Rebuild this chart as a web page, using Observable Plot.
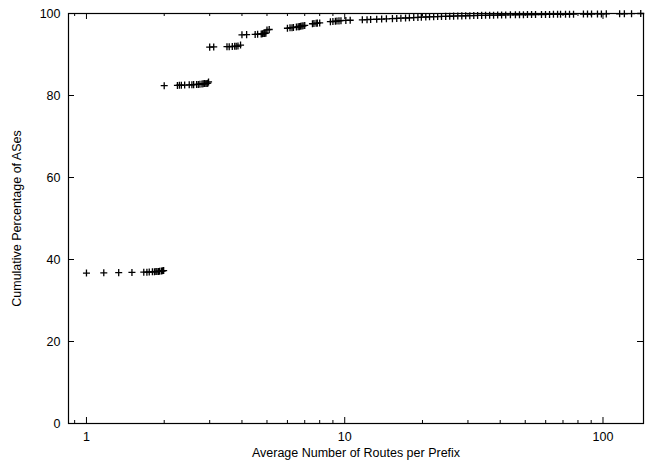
<!DOCTYPE html>
<html><head><meta charset="utf-8">
<script src="https://cdn.jsdelivr.net/npm/d3@7"></script>
<script src="https://cdn.jsdelivr.net/npm/@observablehq/plot@0.6"></script>
<style>body{margin:0;background:#fff} svg{display:block}</style>
</head><body><div id="chart"></div>
<script>
const routesPerPrefix = [
  1.0, 1.167, 1.333, 1.5, 1.667, 1.714, 1.75, 1.8, 1.833, 1.857, 1.875, 1.9, 1.92, 1.95, 1.97, 1.99,
  2.0, 2.25, 2.29, 2.33, 2.4, 2.5, 2.56, 2.6, 2.67, 2.71, 2.75, 2.8, 2.83, 2.86, 2.9, 2.93, 2.95, 2.97,
  3.0, 3.11, 3.5, 3.57, 3.67, 3.75, 3.8, 3.86, 3.95,
  4.0, 4.17, 4.5, 4.6, 4.75, 4.8, 4.86, 4.9, 4.95, 5.0, 5.1,
  6.0, 6.14, 6.25, 6.33, 6.5, 6.6, 6.67, 6.75, 6.83, 6.9, 7.0,
  7.5, 7.6, 7.75, 7.83, 8.0,
  8.8, 9.0, 9.2, 9.33, 9.5, 9.67,
  10.1, 10.5, 11.7, 12.2, 12.6, 13.3, 13.9, 14.5, 15.3, 15.9, 16.5, 17.2, 17.8, 18.5, 19.2, 19.8,
  20.6, 21.3, 22.1, 22.9, 23.7, 24.6, 25.5, 26.4, 27.4, 28.4, 29.4, 30.5, 31.6, 32.7, 33.9, 35.1,
  36.4, 37.7, 39.1, 40.5, 42.0, 43.8, 45.8, 47.5, 49.2, 51.0, 52.9, 54.8, 57.8, 59.9, 62.1, 64.3,
  66.7, 68.5, 71.6, 74.2, 76.9, 84.0, 87.1, 90.3, 95.2, 98.6, 103, 116, 121, 129, 140
];
const cumulativePct = [
  36.7, 36.75, 36.8, 36.85, 36.9, 36.9, 36.95, 37.0, 37.0, 37.05, 37.1, 37.1, 37.15, 37.2, 37.25, 37.3,
  82.4, 82.45, 82.5, 82.5, 82.55, 82.6, 82.6, 82.65, 82.7, 82.7, 82.75, 82.8, 82.85, 82.9, 82.9, 82.95, 83.0, 83.3,
  91.8, 91.85, 91.9, 91.9, 91.95, 92.0, 92.0, 92.05, 92.3,
  94.8, 94.85, 94.9, 94.95, 95.0, 95.05, 95.1, 95.15, 95.2, 96.0, 96.1,
  96.4, 96.5, 96.55, 96.6, 96.7, 96.75, 96.8, 96.9, 96.95, 97.0, 97.1,
  97.5, 97.55, 97.6, 97.65, 97.7,
  98.0, 98.05, 98.1, 98.15, 98.2, 98.25,
  98.3, 98.35, 98.45, 98.5, 98.55, 98.6, 98.65, 98.7, 98.75, 98.8, 98.85, 98.9, 98.95, 99.0, 99.05, 99.1,
  99.15, 99.2, 99.22, 99.25, 99.28, 99.3, 99.33, 99.36, 99.4, 99.42, 99.45, 99.47, 99.5, 99.52, 99.54, 99.56,
  99.58, 99.6, 99.62, 99.64, 99.66, 99.68, 99.7, 99.71, 99.72, 99.73, 99.74, 99.75, 99.76, 99.77, 99.78, 99.79,
  99.8, 99.81, 99.82, 99.83, 99.84, 99.86, 99.87, 99.88, 99.89, 99.9, 99.91, 99.93, 99.94, 99.96, 100
];
const xMajorTicks = [1, 10, 100];
const xMinorTicks = [0.9, 2, 3, 4, 5, 6, 7, 8, 9, 20, 30, 40, 50, 60, 70, 80, 90];
const yTicks = [0, 20, 40, 60, 80, 100];
const xLabel = "Average Number of Routes per Prefix";
const yLabel = "Cumulative Percentage of ASes";

const points = routesPerPrefix.map((x, i) => ({x, y: cumulativePct[i]}));

const W = 645, H = 463, mL = 68, mR = 2, mT = 13, mB = 40;
const pw = W - mL - mR, ph = H - mT - mB;

const chart = Plot.plot({
  width: W, height: H,
  marginLeft: mL, marginRight: mR, marginTop: mT, marginBottom: mB,
  style: {fontFamily: "'Liberation Sans', Arial, sans-serif", fontSize: "12.5px", background: "#fff", color: "#000"},
  x: {type: "log", domain: [0.852, 143.5]},
  y: {domain: [0, 100]},
  marks: [
    Plot.axisX({ticks: xMajorTicks, tickSize: 0, tickPadding: 9, tickFormat: d => String(d),
      label: xLabel, labelAnchor: "center", labelOffset: 33, labelArrow: "none", fontSize: 12.5}),
    Plot.axisY({ticks: yTicks, tickSize: 0, tickPadding: 8, tickFormat: d => String(d),
      label: yLabel, labelAnchor: "center", labelOffset: 56, labelArrow: "none", fontSize: 12.5}),
    Plot.tickX(xMajorTicks, {x: d => d, insetTop: ph - 6, stroke: "#000"}),
    Plot.tickX(xMajorTicks, {x: d => d, insetBottom: ph - 6, stroke: "#000"}),
    Plot.tickX(xMinorTicks, {x: d => d, insetTop: ph - 3, stroke: "#000"}),
    Plot.tickX(xMinorTicks, {x: d => d, insetBottom: ph - 3, stroke: "#000"}),
    Plot.tickY(yTicks, {y: d => d, insetRight: pw - 6, stroke: "#000"}),
    Plot.tickY(yTicks, {y: d => d, insetLeft: pw - 6, stroke: "#000"}),
    Plot.frame({stroke: "#000", strokeWidth: 1.2}),
    Plot.dot(points, {x: "x", y: "y", symbol: "plus", r: 2.4, stroke: "#000", strokeWidth: 1.3})
  ]
});
document.getElementById("chart").appendChild(chart);
</script>
</body></html>
